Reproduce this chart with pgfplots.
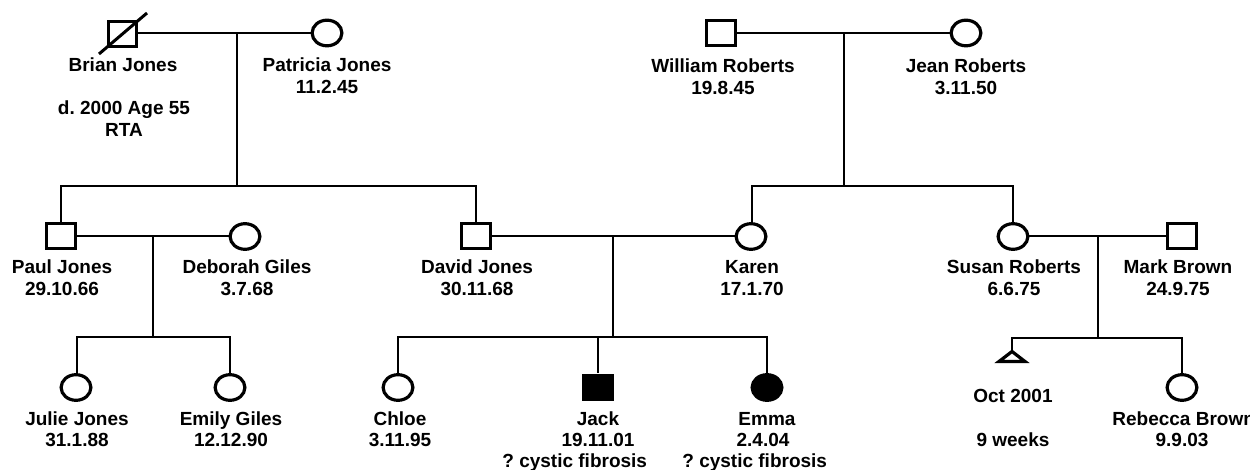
\documentclass[border=0pt]{standalone}
\usepackage{fontspec}
\setmainfont{Liberation Sans}
\usepackage{pgfplots}
\pgfplotsset{compat=1.18}
\frenchspacing
\begin{document}
\begin{tikzpicture}[lbl/.style={anchor=base, inner sep=0pt, font=\fontsize{9.5}{11}\selectfont\bfseries}]
\useasboundingbox (0,0) rectangle (625pt,235pt);
\begin{axis}[at={(0,0)}, anchor=south west, width=625pt, height=235pt, scale only axis,
  xmin=0, xmax=1250, ymin=0, ymax=470, y dir=reverse, hide axis, clip=false,
  unbounded coords=jump]
% lines (pixel coordinates, y downwards)
\addplot[black, line width=1.4pt, no marks] coordinates {
 (137,33) (327,33) (nan,nan)
 (237,33) (237,186) (nan,nan)
 (61,222) (61,186) (476,186) (476,222) (nan,nan)
 (61,236) (245,236) (nan,nan)
 (153,236) (153,337) (nan,nan)
 (77,373) (77,337) (230,337) (230,373) (nan,nan)
 (476,236) (751,236) (nan,nan)
 (613,236) (613,337) (nan,nan)
 (398,373) (398,337) (767,337) (767,373) (nan,nan)
 (598,337) (598,373) (nan,nan)
 (721,33) (966,33) (nan,nan)
 (844,33) (844,186) (nan,nan)
 (752,222) (752,186) (1013,186) (1013,222) (nan,nan)
 (1013,236) (1182,236) (nan,nan)
 (1098,236) (1098,338) (nan,nan)
 (1012,350) (1012,338) (1182,338) (1182,373)
};
% open squares (males)
\addplot[only marks, mark=square*, mark size=7.2pt, mark options={yscale=0.86, line width=1.6pt, draw=black, fill=white}]
 coordinates {(721,33) (61,236) (476,236) (1182,236)};
% affected male
\addplot[only marks, mark=square*, mark size=7.2pt, mark options={yscale=0.86, line width=1.6pt, draw=black, fill=black}]
 coordinates {(598,387.5)};
% open circles (females)
\addplot[only marks, mark=*, mark size=7.45pt, mark options={yscale=0.86, line width=1.6pt, draw=black, fill=white}]
 coordinates {(327,33) (966,33) (245,236.5) (751,236.5) (1013,236.5) (76,387.5) (230,387.5) (398,387.5) (1182,387.5)};
% affected female
\addplot[only marks, mark=*, mark size=7.45pt, mark options={yscale=0.86, line width=1.6pt, draw=black, fill=black}]
 coordinates {(767,387.5)};
% deceased male (Brian Jones): square outline and slash
\addplot[black, line width=1.6pt, no marks, line join=miter] coordinates {(108.5,21.5) (136.5,21.5) (136.5,46.5) (108.5,46.5)} -- cycle;
\addplot[black, line width=1.5pt, no marks] coordinates {(99,54) (147,13)};
% miscarriage triangle
\addplot[black, line width=1.6pt, fill=white, no marks, line join=miter] coordinates {(1012,351.5) (999,361.5) (1025,361.5)} -- cycle;
% labels
\node[lbl] at (axis cs:123,72) {Brian Jones};
\node[lbl] at (axis cs:124,115) {d. 2000 Age 55};
\node[lbl] at (axis cs:124,137) {RTA};
\node[lbl] at (axis cs:327,72) {Patricia Jones};
\node[lbl] at (axis cs:327,94) {11.2.45};
\node[lbl] at (axis cs:723,73) {William Roberts};
\node[lbl] at (axis cs:723,95) {19.8.45};
\node[lbl] at (axis cs:966,73) {Jean Roberts};
\node[lbl] at (axis cs:966,95) {3.11.50};
\node[lbl] at (axis cs:62,274) {Paul Jones};
\node[lbl] at (axis cs:62,296) {29.10.66};
\node[lbl] at (axis cs:247,274) {Deborah Giles};
\node[lbl] at (axis cs:247,296) {3.7.68};
\node[lbl] at (axis cs:477,274) {David Jones};
\node[lbl] at (axis cs:477,296) {30.11.68};
\node[lbl] at (axis cs:752,274) {Karen};
\node[lbl] at (axis cs:752,296) {17.1.70};
\node[lbl] at (axis cs:1014,274) {Susan Roberts};
\node[lbl] at (axis cs:1014,296) {6.6.75};
\node[lbl] at (axis cs:1178,274) {Mark Brown};
\node[lbl] at (axis cs:1178,296) {24.9.75};
\node[lbl] at (axis cs:77,426) {Julie Jones};
\node[lbl] at (axis cs:77,447) {31.1.88};
\node[lbl] at (axis cs:231,426) {Emily Giles};
\node[lbl] at (axis cs:231,447) {12.12.90};
\node[lbl] at (axis cs:400,426) {Chloe};
\node[lbl] at (axis cs:400,447) {3.11.95};
\node[lbl] at (axis cs:598,426) {Jack};
\node[lbl] at (axis cs:598,447) {19.11.01};
\node[lbl, anchor=base west] at (axis cs:502,468) {? cystic fibrosis};
\node[lbl] at (axis cs:767,426) {Emma};
\node[lbl] at (axis cs:763,447) {2.4.04};
\node[lbl, anchor=base west] at (axis cs:682,468) {? cystic fibrosis};
\node[lbl] at (axis cs:1013,403) {Oct 2001};
\node[lbl] at (axis cs:1013,447) {9 weeks};
\node[lbl, anchor=base west] at (axis cs:1112,426) {Rebecca Brown};
\node[lbl] at (axis cs:1182,447) {9.9.03};
\end{axis}
\end{tikzpicture}
\end{document}
